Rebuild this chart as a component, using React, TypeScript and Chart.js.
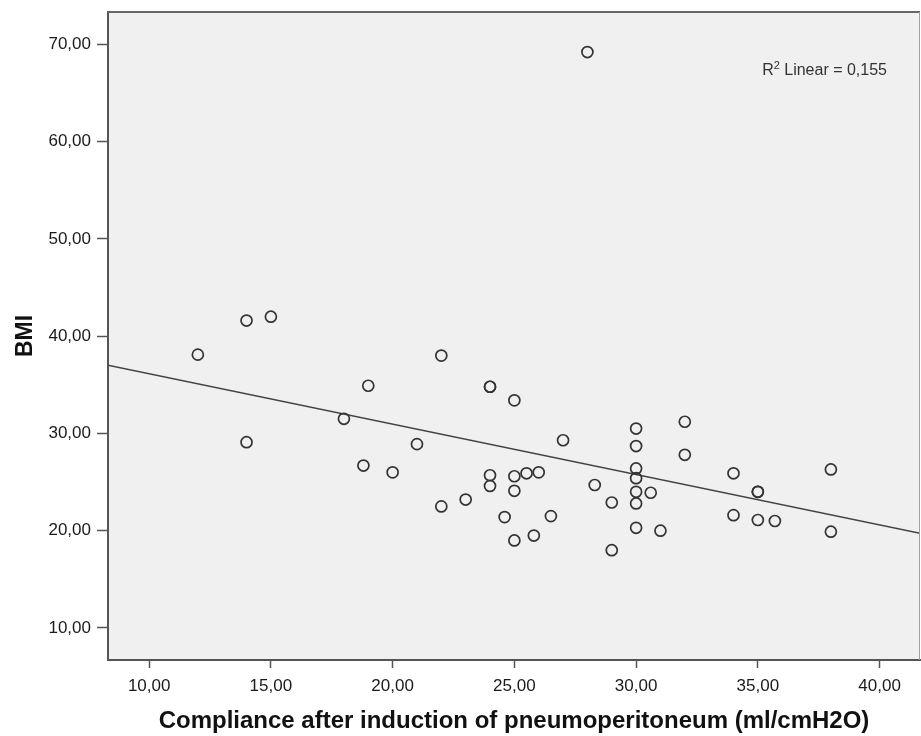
import React, { useEffect, useRef } from "react";
import { Chart, registerables } from "chart.js";

Chart.register(...registerables);

// Compliance after induction of pneumoperitoneum (ml/cmH2O)
const COMPLIANCE = [
  12, 14, 15, 22, 28, 14, 18, 19, 18.8, 20, 21, 22, 23, 24, 24, 24, 24, 24.6,
  25, 25, 25.5, 26, 25, 26.5, 25, 25.8, 27, 28.3, 29, 29, 30, 30, 30, 30, 30,
  30, 30, 30.6, 31, 32, 32, 34, 34, 35, 35, 35, 35.7, 38, 38,
];
// BMI
const BMI = [
  38.1, 41.6, 42.0, 38.0, 69.2, 29.1, 31.5, 34.9, 26.7, 26.0, 28.9, 22.5, 23.2,
  34.8, 34.8, 25.7, 24.6, 21.4, 33.4, 25.6, 25.9, 26.0, 24.1, 21.5, 19.0, 19.5,
  29.3, 24.7, 22.9, 18.0, 30.5, 28.7, 26.4, 25.4, 24.0, 22.8, 20.3, 23.9, 20.0,
  31.2, 27.8, 25.9, 21.6, 24.0, 24.0, 21.1, 21.0, 26.3, 19.9,
];

const X_TICKS = [10, 15, 20, 25, 30, 35, 40];
const Y_TICKS = [10, 20, 30, 40, 50, 60, 70];
const X_MIN = 8.31;
const X_MAX = 41.66;
const Y_MIN = 6.71;
const Y_MAX = 73.32;

// Linear fit
const FIT_INTERCEPT = 41.33;
const FIT_SLOPE = -0.5185;
const R2_LABEL = "0,155";

const X_TITLE = "Compliance after induction of pneumoperitoneum (ml/cmH2O)";
const Y_TITLE = "BMI";

const FONT = "'Liberation Sans', Arial, sans-serif";

const fmt = (v: number) => v.toFixed(2).replace(".", ",");

const framePlugin = {
  id: "frame",
  beforeDraw(chart: any) {
    const { ctx, chartArea: a } = chart;
    ctx.save();
    ctx.fillStyle = "#f0f0f0";
    ctx.fillRect(a.left, a.top, a.right - a.left, a.bottom - a.top);
    ctx.restore();
  },
  afterDraw(chart: any) {
    const { ctx, chartArea: a } = chart;
    ctx.save();
    ctx.strokeStyle = "#666";
    ctx.lineWidth = 2;
    ctx.beginPath();
    ctx.moveTo(a.left, a.top);
    ctx.lineTo(a.right, a.top);
    ctx.stroke();
    ctx.strokeStyle = "#a0a0a0";
    ctx.lineWidth = 1;
    ctx.beginPath();
    ctx.moveTo(a.right - 0.5, a.top);
    ctx.lineTo(a.right - 0.5, a.bottom);
    ctx.stroke();

    // R² annotation
    const rightX = a.right - 33;
    const y = a.top + 59;
    ctx.fillStyle = "#333";
    ctx.textBaseline = "middle";
    ctx.font = `16px ${FONT}`;
    const rest = " Linear = " + R2_LABEL;
    const wR = ctx.measureText("R").width;
    const wRest = ctx.measureText(rest).width;
    ctx.font = `11px ${FONT}`;
    const w2 = ctx.measureText("2").width;
    let x = rightX - (wR + w2 + wRest);
    ctx.font = `16px ${FONT}`;
    ctx.textAlign = "left";
    ctx.fillText("R", x, y);
    x += wR;
    ctx.font = `11px ${FONT}`;
    ctx.fillText("2", x, y - 5);
    x += w2;
    ctx.font = `16px ${FONT}`;
    ctx.fillText(rest, x, y);
    ctx.restore();
  },
};

export default function App() {
  const ref = useRef<HTMLCanvasElement | null>(null);

  useEffect(() => {
    if (!ref.current) return;
    const points = COMPLIANCE.map((x, i) => ({ x, y: BMI[i] }));
    const fit = [X_MIN, X_MAX].map((x) => ({ x, y: FIT_INTERCEPT + FIT_SLOPE * x }));
    const chart = new Chart(ref.current, {
      type: "scatter",
      data: {
        datasets: [
          {
            type: "line",
            data: fit,
            borderColor: "#444",
            borderWidth: 1.5,
            pointRadius: 0,
            fill: false,
            order: 2,
          } as any,
          {
            data: points,
            pointRadius: 5.5,
            pointBorderWidth: 1.7,
            pointBorderColor: "#333",
            pointBackgroundColor: "rgba(0,0,0,0)",
            order: 1,
          },
        ],
      },
      plugins: [framePlugin],
      options: {
        animation: false,
        responsive: false,
        layout: { autoPadding: false, padding: { top: 12, right: 1, left: 0, bottom: 0 } },
        plugins: {
          legend: { display: false },
          tooltip: { enabled: false },
        },
        scales: {
          x: {
            type: "linear",
            min: X_MIN,
            max: X_MAX,
            afterBuildTicks: (s: any) => {
              s.ticks = X_TICKS.map((value) => ({ value }));
            },
            afterFit: (s: any) => {
              s.height = 76;
              s.paddingLeft = 0;
              s.paddingRight = 0;
            },
            grid: {
              drawOnChartArea: false,
              drawTicks: true,
              tickLength: 8,
              tickColor: "#555",
              tickWidth: 1.5,
            },
            border: { color: "#555", width: 2 },
            ticks: {
              padding: 8,
              color: "#1a1a1a",
              font: { family: FONT, size: 17 },
              callback: (v: any) => fmt(Number(v)),
              maxRotation: 0,
            },
            title: {
              display: true,
              text: X_TITLE,
              color: "#111",
              font: { family: FONT, size: 24, weight: "bold" },
              padding: { top: 0, bottom: 0 },
            },
          },
          y: {
            type: "linear",
            min: Y_MIN,
            max: Y_MAX,
            afterBuildTicks: (s: any) => {
              s.ticks = Y_TICKS.map((value) => ({ value }));
            },
            afterFit: (s: any) => {
              s.width = 108;
              s.paddingTop = 0;
              s.paddingBottom = 0;
            },
            grid: {
              drawOnChartArea: false,
              drawTicks: true,
              tickLength: 11,
              tickColor: "#555",
              tickWidth: 1.5,
            },
            border: { color: "#555", width: 2 },
            ticks: {
              padding: 6,
              color: "#1a1a1a",
              font: { family: FONT, size: 17 },
              callback: (v: any) => fmt(Number(v)),
            },
            title: {
              display: true,
              text: Y_TITLE,
              color: "#111",
              font: { family: FONT, size: 23, weight: "bold" },
              padding: { top: 12, bottom: 0 },
            },
          },
        },
      },
    });
    return () => chart.destroy();
  }, []);

  return (
    <div style={{ position: "fixed", left: 0, top: 0, width: 921, height: 736, background: "#fff" }}>
      <canvas ref={ref} width={921} height={736} style={{ display: "block" }} />
    </div>
  );
}
